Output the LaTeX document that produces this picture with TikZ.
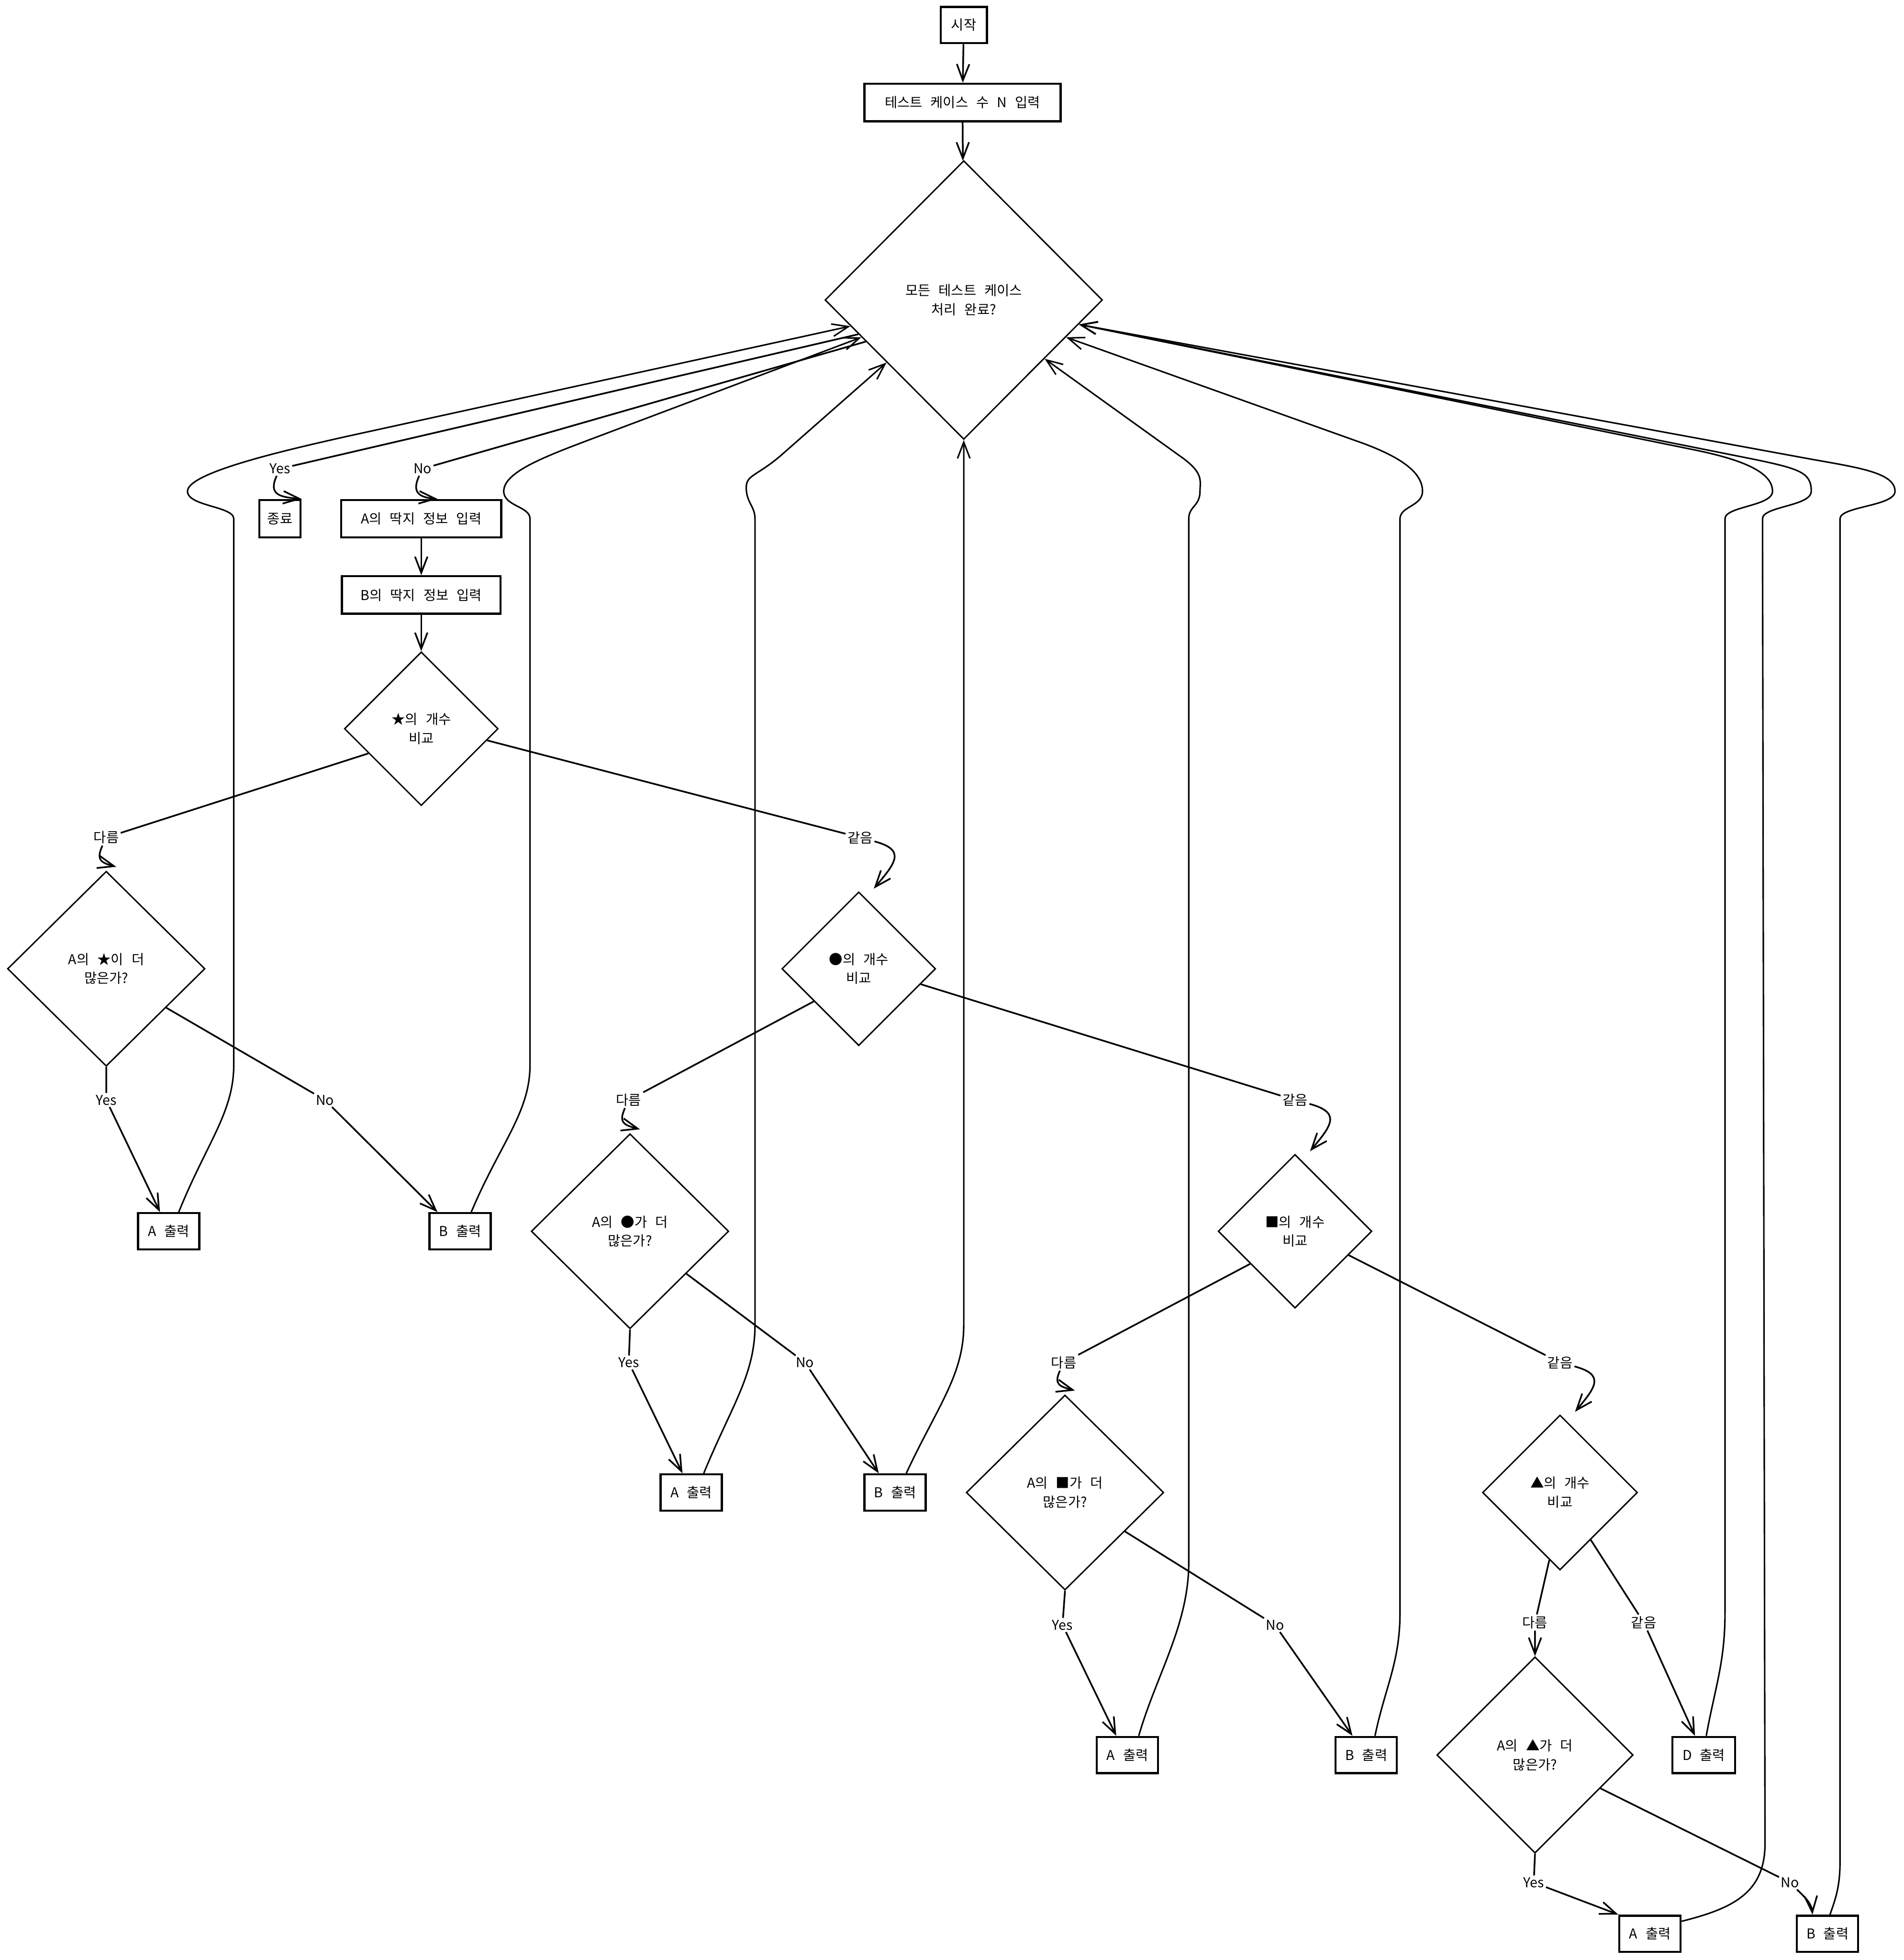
\documentclass[tikz,border=0pt]{standalone}
\usepackage{fontspec}
\setmainfont{Noto Sans CJK KR}
\usetikzlibrary{shapes.geometric, arrows.meta}
\newcommand{\flowfont}{\fontsize{15.5}{21.5}\selectfont\spaceskip=.6em\relax}

\begin{document}
\begin{tikzpicture}[
    x=0.5mm, y=0.5mm,
    proc/.style={rectangle, draw, line width=2.4pt, minimum width=24.5mm, minimum height=14.5mm, inner sep=0pt, font=\flowfont},
    decide/.style={diamond, draw, line width=1.6pt, minimum size=61.5mm, inner sep=1pt, align=center, font=\flowfont},
    lbl/.style={inner sep=2pt, font=\flowfont},
    link/.style={line width=1.9pt, -{Straight Barb[length=6.5mm, width=5mm]}},
    loopback/.style={line width=1.7pt, -{Straight Barb[length=6.5mm, width=5mm]}}
]
\useasboundingbox (0,0) rectangle (1523,-1568);

\node[proc, minimum width=18.5mm] (start) at (771,-20) {시작};
\node[proc, minimum width=78.5mm, minimum height=15mm] (readN) at (770,-82) {테스트 케이스 수 N 입력};
\node[decide, minimum width=111mm, minimum height=111.5mm] (done) at (771,-240) {모든 테스트 케이스\\처리 완료?};
\node[proc, minimum width=16.5mm, minimum height=15mm] (stop) at (224,-415) {종료};
\node[proc, minimum width=64mm, minimum height=15mm] (readA) at (337,-415) {A의 딱지 정보 입력};
\node[proc, minimum width=63.5mm, minimum height=15mm] (readB) at (337,-476) {B의 딱지 정보 입력};

\node[decide] (star) at (337,-583) {★의 개수\\비교};
\node[decide, minimum width=79mm, minimum height=78mm] (moreStar) at (85,-775) {A의 ★이 더\\많은가?};
\node[proc] (outA1) at (135,-985) {A 출력};
\node[proc] (outB1) at (368,-985) {B 출력};

\node[decide] (dot) at (687,-775) {●의 개수\\비교};
\node[decide, minimum width=79mm, minimum height=78mm] (moreDot) at (504,-985) {A의 ●가 더\\많은가?};
\node[proc] (outA2) at (553,-1194) {A 출력};
\node[proc] (outB2) at (716,-1194) {B 출력};

\node[decide] (sq) at (1036,-985) {■의 개수\\비교};
\node[decide, minimum width=79mm, minimum height=78mm] (moreSq) at (852,-1194) {A의 ■가 더\\많은가?};
\node[proc] (outA3) at (902,-1404) {A 출력};
\node[proc] (outB3) at (1093,-1404) {B 출력};

\node[decide, minimum size=62mm] (tri) at (1248,-1194) {▲의 개수\\비교};
\node[decide, minimum size=78.5mm] (moreTri) at (1228,-1404) {A의 ▲가 더\\많은가?};
\node[proc, minimum width=25mm] (outD) at (1363,-1404) {D 출력};
\node[proc] (outA4) at (1320,-1547) {A 출력};
\node[proc] (outB4) at (1462,-1547) {B 출력};

\node[lbl] (yes0) at (224,-375) {Yes};
\node[lbl] (no0) at (338,-375) {No};
\node[lbl] (neStar) at (85,-670) {다름};
\node[lbl] (eqStar) at (688,-670) {같음};
\node[lbl] (yes1) at (85,-880) {Yes};
\node[lbl] (no1) at (260,-880) {No};
\node[lbl] (neDot) at (503,-880) {다름};
\node[lbl] (eqDot) at (1036,-880) {같음};
\node[lbl] (yes2) at (503,-1090) {Yes};
\node[lbl] (no2) at (644,-1090) {No};
\node[lbl] (neSq) at (851,-1090) {다름};
\node[lbl] (eqSq) at (1248,-1090) {같음};
\node[lbl] (yes3) at (850,-1300) {Yes};
\node[lbl] (no3) at (1020,-1300) {No};
\node[lbl] (neTri) at (1228,-1298) {다름};
\node[lbl] (eqTri) at (1315,-1298) {같음};
\node[lbl] (yes4) at (1227,-1506) {Yes};
\node[lbl] (no4) at (1432,-1506) {No};

\draw[link] (start) -- (readN);
\draw[link] (readN) -- (done);
\draw[link] (done.198) -- (yes0) to[out=-115, in=175, looseness=1.6] (stop.north east);
\draw[link] (done.203) -- (no0) to[out=-115, in=175, looseness=1.6] ([xshift=6.5mm]readA.north);
\draw[link] (readA) -- (readB);
\draw[link] (readB) -- (star);

\draw[link] (star.205) -- (neStar) to[out=-115, in=165, looseness=1.6] ([xshift=4mm, yshift=1.5mm]moreStar.north);
\draw[link] (star.350) -- (eqStar) to[out=-15, in=50, looseness=1.8] ([xshift=6mm, yshift=1mm]dot.north);
\draw[link] (moreStar.south) -- (yes1) -- ([xshift=-3.5mm]outA1.north);
\draw[link] (moreStar.327) -- (no1) -- ([xshift=-9mm]outB1.north);

\draw[link] (dot.216) -- (neDot) to[out=-115, in=165, looseness=1.6] ([xshift=4mm, yshift=1.5mm]moreDot.north);
\draw[link] (dot.346) -- (eqDot) to[out=-15, in=50, looseness=1.8] ([xshift=6mm, yshift=1mm]sq.north);
\draw[link] (moreDot.south) -- (yes2) -- ([xshift=-3.5mm]outA2.north);
\draw[link] (moreDot.323) -- (no2) -- ([xshift=-6.5mm]outB2.north);

\draw[link] (sq.216) -- (neSq) to[out=-115, in=165, looseness=1.6] ([xshift=4mm, yshift=1.5mm]moreSq.north);
\draw[link] (sq.336) -- (eqSq) to[out=-15, in=50, looseness=1.8] ([xshift=6mm, yshift=1mm]tri.north);
\draw[link] (moreSq.south) -- (yes3) -- ([xshift=-4.5mm]outA3.north);
\draw[link] (moreSq.327) -- (no3) -- ([xshift=-5.5mm]outB3.north);

\draw[link] (tri.261) -- (neTri) -- (moreTri.north);
\draw[link] (tri.303) -- (eqTri) -- ([xshift=-3.5mm]outD.north);
\draw[link] (moreTri.south) -- (yes4) -- (outA4.north west);
\draw[link] (moreTri.333) -- (no4) to[out=-45, in=95] ([xshift=-6mm]outB4.north);

\draw[loopback] ([xshift=4mm]outA1.north) .. controls (165,-915) and (187,-890) .. (187,-852) -- (187,-415)
    .. controls (187,-405) and (150,-405) .. (150,-393) .. controls (150,-378) and (229,-360) .. (278,-349) -- (done.193);
\draw[loopback] ([xshift=4.5mm]outB1.north) .. controls (400,-915) and (424,-890) .. (424,-852) -- (424,-415)
    .. controls (424,-405) and (403,-405) .. (403,-393) .. controls (403,-378) and (434,-366) .. (471,-352) -- (done.200);
\draw[loopback] ([xshift=5mm]outA2.north) .. controls (585,-1125) and (604,-1100) .. (604,-1060) -- (604,-415)
    .. controls (604,-405) and (597,-402) .. (597,-390) .. controls (597,-380) and (605,-381) .. (624,-365) -- (done.219);
\draw[loopback] ([xshift=4.5mm]outB2.north) .. controls (750,-1125) and (771,-1100) .. (771,-1060) -- (done.south);
\draw[loopback] ([xshift=4.5mm]outA3.north) .. controls (925,-1340) and (951,-1300) .. (951,-1250) -- (951,-415)
    .. controls (951,-405) and (960,-405) .. (960,-393) .. controls (960,-385) and (963,-379) .. (947,-367) -- (done.324);
\draw[loopback] ([xshift=3.5mm]outB3.north) .. controls (1108,-1350) and (1120,-1330) .. (1120,-1290) -- (1120,-415)
    .. controls (1120,-405) and (1138,-405) .. (1138,-393) .. controls (1138,-378) and (1121,-365) .. (1083,-352) -- (done.340);
\draw[loopback] ([xshift=1mm]outD.north) .. controls (1372,-1350) and (1380,-1330) .. (1380,-1290) -- (1380,-415)
    .. controls (1380,-405) and (1418,-405) .. (1418,-393) .. controls (1418,-378) and (1395,-368) .. (1356,-360) -- (done.348);
\draw[loopback] ([yshift=5mm]outA4.east) .. controls (1385,-1527) and (1412,-1515) .. (1412,-1475) -- (1410,-415)
    .. controls (1410,-405) and (1449,-405) .. (1449,-393) .. controls (1449,-378) and (1440,-375) .. (1401,-367) -- (done.348);
\draw[loopback] ([xshift=1mm]outB4.north) .. controls (1468,-1520) and (1472,-1510) .. (1472,-1490) -- (1472,-415)
    .. controls (1472,-405) and (1516,-405) .. (1516,-393) .. controls (1516,-378) and (1486,-374) .. (1447,-367) -- (done.348);

\end{tikzpicture}
\end{document}
